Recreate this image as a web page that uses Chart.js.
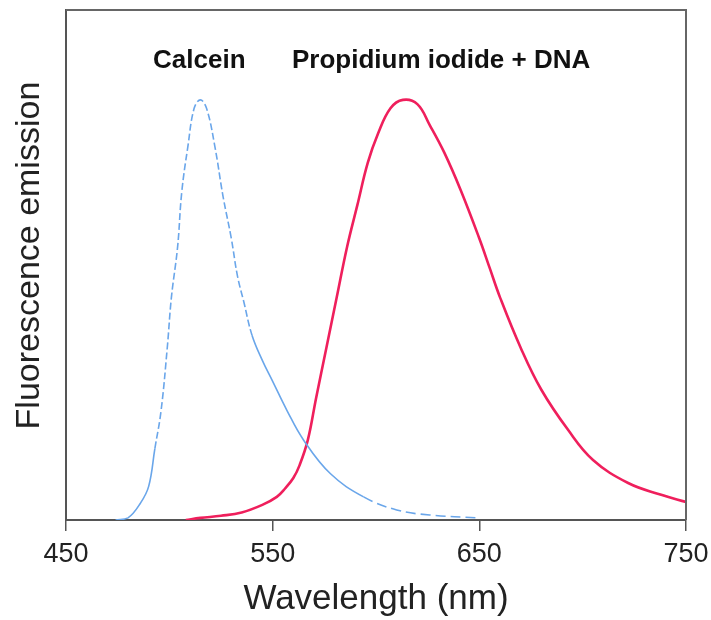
<!DOCTYPE html>
<html>
<head>
<meta charset="utf-8">
<script src="https://cdn.jsdelivr.net/npm/chart.js@4"></script>
<style>
  body { margin: 0; background: #fff; }
</style>
</head>
<body>
<canvas id="myChart" width="711" height="620"></canvas>
<script>
// wavelength (nm) and relative emission
const calceinNm  = [474, 480, 486, 490, 493, 496, 499, 501, 504, 506, 509, 512, 515, 518, 522, 526, 530, 533, 536, 540, 545, 550, 557, 565, 578, 594, 610, 626, 650];
const calceinVal = [0, 0.5, 4, 8, 17, 26, 41, 53, 65, 78, 89, 98, 100, 98, 89, 77, 67, 58, 52, 44, 38, 33, 26, 19, 11, 5.5, 2.4, 1.2, 0.5];

const piNm  = [508, 515, 525, 535, 545, 552, 556, 560, 563, 567, 571, 576, 581, 586, 591, 596, 601, 607, 613, 620, 626, 633, 641, 650, 655, 660, 670, 680, 693, 705, 722, 738, 750];
const piVal = [0, 0.5, 1, 1.8, 3.6, 5.5, 7.5, 10, 13, 19, 29, 41, 53, 65, 75, 85, 92, 98, 100, 99, 94, 87.5, 78.5, 67, 60, 53, 41, 31, 21.4, 14.3, 8.8, 6, 4.3];

const xTicks = [450, 550, 650, 750];

const labelText = ['Calcein', 'Propidium iodide + DNA'];
const labelNm   = [514.5, 631.5];
const labelVal  = [107.5, 107.5];

const toPoints = (xs, ys) => xs.map((x, i) => ({ x: x, y: ys[i] }));

// the scanned calcein trace is dashed near the peak and in the far tail
function calceinDash(ctx) {
  const x = ctx.p0.parsed.x, y = ctx.p0.parsed.y;
  if (x < 515) return y > 14 ? [7, 3] : undefined;
  if (x < 585) return y > 45 ? [7, 3] : undefined;
  return [10, 5];
}

// frame round the plot and the two peak labels
const extras = {
  id: 'extras',
  afterDraw(chart) {
    const { ctx, chartArea: a, scales } = chart;
    ctx.save();
    ctx.strokeStyle = '#666';
    ctx.lineWidth = 2;
    ctx.beginPath();
    ctx.moveTo(a.left, a.top);
    ctx.lineTo(a.right, a.top);
    ctx.lineTo(a.right, a.bottom);
    ctx.stroke();
    ctx.fillStyle = '#111';
    ctx.font = 'bold 26px "Liberation Sans", Arial, sans-serif';
    ctx.textAlign = 'center';
    ctx.textBaseline = 'alphabetic';
    labelText.forEach((t, i) => {
      ctx.fillText(t, scales.x.getPixelForValue(labelNm[i]), scales.y.getPixelForValue(labelVal[i]));
    });
    ctx.restore();
  }
};

new Chart(document.getElementById('myChart'), {
  type: 'line',
  data: {
    datasets: [{
      label: 'Calcein',
      data: toPoints(calceinNm, calceinVal),
      borderColor: '#6aa6ea',
      borderWidth: 1.6,
      pointRadius: 0,
      tension: 0.4,
      segment: { borderDash: calceinDash }
    }, {
      label: 'Propidium iodide + DNA',
      data: toPoints(piNm, piVal),
      borderColor: '#ef1f5c',
      borderWidth: 2.6,
      pointRadius: 0,
      tension: 0.4
    }]
  },
  options: {
    responsive: false,
    animation: false,
    layout: { padding: { top: 10, right: 0, left: 0, bottom: 0 } },
    plugins: {
      legend: { display: false },
      tooltip: { enabled: false }
    },
    scales: {
      x: {
        type: 'linear',
        min: 450,
        max: 750,
        afterFit: s => { s.height = 100; s.paddingLeft = 0; s.paddingRight = 25; },
        afterBuildTicks: s => { s.ticks = xTicks.map(v => ({ value: v })); },
        border: { color: '#555', width: 2 },
        grid: { drawOnChartArea: false, drawTicks: true, tickLength: 11, color: '#555', lineWidth: 1.5 },
        ticks: {
          maxRotation: 0,
          padding: 7,
          color: '#222',
          font: { family: '"Liberation Sans", Arial, sans-serif', size: 27 }
        },
        title: {
          display: true,
          text: 'Wavelength (nm)',
          color: '#222',
          padding: { top: 0, bottom: 0 },
          font: { family: '"Liberation Sans", Arial, sans-serif', size: 35 }
        }
      },
      y: {
        min: 0,
        max: 121.4,
        afterFit: s => { s.width = 66; },
        border: { color: '#555', width: 2 },
        grid: { display: false },
        ticks: { display: false },
        title: {
          display: true,
          text: '  Fluorescence emission',
          color: '#222',
          padding: { top: 9, bottom: 0 },
          font: { family: '"Liberation Sans", Arial, sans-serif', size: 34 }
        }
      }
    }
  },
  plugins: [extras]
});
</script>
</body>
</html>
